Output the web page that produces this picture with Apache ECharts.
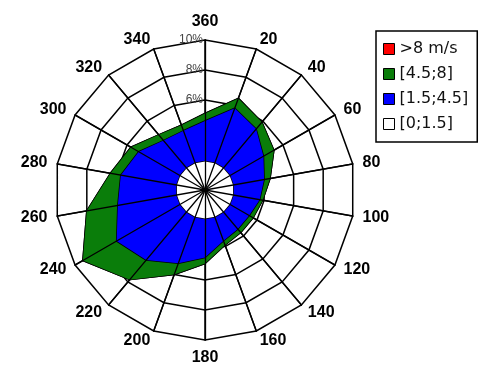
<!DOCTYPE html>
<html>
<head>
<meta charset="utf-8">
<script src="https://cdn.jsdelivr.net/npm/echarts@6/dist/echarts.min.js"></script>
<style>
  html, body { margin: 0; padding: 0; background: #fff; }
  #chart { width: 482px; height: 369px; }
</style>
</head>
<body>
<div id="chart"></div>
<script>
// Compass directions (degrees clockwise from north)
const directions = [360, 20, 40, 60, 80, 100, 120, 140, 160, 180, 200, 220, 240, 260, 280, 300, 320, 340];

// Speed classes, outermost first
const classNames = ['>8 m/s', '[4.5;8]', '[1.5;4.5]', '[0;1.5]'];
const classColors = ['#ff0000', '#0a7d0a', '#0000ff', '#ffffff'];

// Cumulative frequency (%) reached by each speed class, per direction
const upTo1_5 = [1.9, 1.9, 1.9, 1.9, 1.9, 1.9, 1.9, 1.9, 1.9, 1.9, 1.9, 1.9, 1.9, 1.9, 1.9, 1.9, 1.9, 1.9];
const upTo4_5 = [4.6, 5.8, 5.3, 4.5, 4.0, 3.7, 3.4, 3.4, 3.6, 4.5, 5.2, 6.1, 6.8, 5.9, 5.7, 5.1, 4.3, 4.2];
const upTo8   = [5.1, 6.5, 5.9, 5.3, 4.4, 3.9, 3.7, 3.7, 3.9, 4.9, 6.0, 7.8, 9.4, 8.0, 6.4, 5.7, 4.8, 4.6];
// Share (%) above 8 m/s, per direction
const above8  = [0, 0, 0, 0, 0, 0, 0, 0, 0, 0, 0, 0, 0, 0, 0, 0, 0, 0];

// Radial scale
const radialMax = 10;
const radialStep = 2;

// Radar axes run counter-clockwise, so walk the compass backwards
const order = directions.map((d, i) => (directions.length - i) % directions.length);
const reorder = arr => order.map(k => arr[k]);

const totals = upTo8.map((v, i) => +(v + above8[i]).toFixed(2));
const edges = [totals, upTo8, upTo4_5, upTo1_5];

const indicatorsMain = order.map((k, i) => {
  const ind = { name: String(directions[k]), min: 0, max: radialMax };
  if (i === 0) {
    ind.axisLabel = {
      show: true,
      showMinLabel: false,
      formatter: '{value}%',
      color: '#444',
      fontSize: 12,
      fontFamily: 'Liberation Sans, Arial, sans-serif',
      margin: 2
    };
  }
  return ind;
});
const indicatorsOverlay = order.map(() => ({ name: '', min: 0, max: radialMax }));

const common = {
  center: [205, 190],
  radius: 150,
  startAngle: 90,
  splitNumber: radialMax / radialStep,
  shape: 'polygon',
  splitArea: { show: false },
  axisTick: { show: false }
};

const option = {
  animation: false,
  backgroundColor: '#fff',
  radar: [
    Object.assign({}, common, {
      z: 0,
      indicator: indicatorsMain,
      nameGap: 10,
      axisName: {
        color: '#000',
        fontSize: 16,
        fontWeight: 'bold',
        fontFamily: 'Liberation Sans, Arial, sans-serif'
      },
      axisLine: { lineStyle: { color: '#000', width: 1.5 } },
      splitLine: { lineStyle: { color: '#000', width: 1.5 } },
      axisLabel: { show: false }
    }),
    // spokes drawn again above the filled classes
    Object.assign({}, common, {
      z: 5,
      silent: true,
      indicator: indicatorsOverlay,
      axisName: { show: false },
      axisLine: { lineStyle: { color: '#000', width: 1.3 } },
      splitLine: { show: false },
      axisLabel: { show: false }
    })
  ],
  legend: {
    orient: 'vertical',
    left: 376,
    top: 31,
    icon: 'rect',
    itemWidth: 11,
    itemHeight: 11,
    itemGap: 9,
    padding: [10, 9, 10, 7],
    selectedMode: false,
    backgroundColor: '#fff',
    borderColor: '#000',
    borderWidth: 1.5,
    itemStyle: { borderColor: '#000', borderWidth: 1 },
    textStyle: { fontFamily: 'DejaVu Sans, sans-serif', fontSize: 16, color: '#111' },
    data: classNames
  },
  series: classNames.map((name, s) => ({
    type: 'radar',
    name: name,
    radarIndex: 0,
    symbol: 'none',
    itemStyle: { color: classColors[s] },
    lineStyle: { color: '#000', width: 1.5 },
    areaStyle: { color: classColors[s], opacity: 1 },
    data: [{ name: name, value: reorder(edges[s]) }]
  }))
};

const chart = echarts.init(document.getElementById('chart'), null, { renderer: 'canvas' });
chart.setOption(option);
</script>
</body>
</html>
